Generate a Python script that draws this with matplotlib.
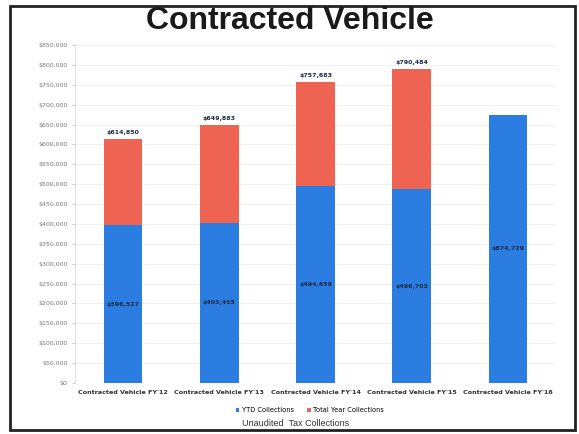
import matplotlib
matplotlib.use("Agg")
import matplotlib.pyplot as plt
from matplotlib.patches import Rectangle
from matplotlib.ticker import FuncFormatter

categories = ["Contracted Vehicle FY'12", "Contracted Vehicle FY'13", "Contracted Vehicle FY'14",
              "Contracted Vehicle FY'15", "Contracted Vehicle FY'16"]
ytd = [396527, 403455, 494659, 486703, 674729]
totals = [614850, 649883, 757683, 790484, None]
remainder = [t - y if t is not None else 0 for t, y in zip(totals, ytd)]

blue = "#2B7DE1"
red = "#EE6352"

fig = plt.figure(figsize=(5.79, 4.34), dpi=100)
ax = fig.add_axes([75 / 579, 51 / 434, 481 / 579, 338 / 434])

x = range(len(categories))
ax.bar(x, ytd, width=0.4, color=blue, label="YTD Collections", zorder=3)
ax.bar(x, remainder, width=0.4, bottom=ytd, color=red, label="Total Year Collections", zorder=3)

for i in x:
    ax.text(i, ytd[i] / 2, "${:,}".format(ytd[i]), ha="center", va="center",
            fontsize=4.5, color="#1a2a44", fontweight="bold", zorder=4)
    if totals[i] is not None:
        ax.text(i, totals[i] + 9000, "${:,}".format(totals[i]), ha="center", va="bottom",
                fontsize=4.5, color="#1a2a44", fontweight="bold", zorder=4)

ax.set_xlim(-0.5, 4.5)
ax.set_ylim(0, 850000)
ax.set_yticks(range(0, 850001, 50000))
ax.yaxis.set_major_formatter(FuncFormatter(lambda v, p: "${:,.0f}".format(v)))
ax.grid(axis="y", color="#eeeeee", linewidth=0.6, zorder=0)
ax.set_xticks(list(x))
ax.set_xticklabels(categories, fontsize=4.6, fontweight="bold", color="#333333")
ax.tick_params(axis="y", labelsize=4.5, labelcolor="#777777", length=2, color="#cccccc")
ax.tick_params(axis="x", length=0, pad=5)
for s in ["top", "right", "bottom"]:
    ax.spines[s].set_visible(False)
ax.spines["left"].set_color("#dddddd")
ax.spines["left"].set_linewidth(0.6)

fig.legend(loc="center", bbox_to_anchor=(310 / 579, 1 - 410 / 434), ncol=2, frameon=False,
           fontsize=4.8, handlelength=0.5, handleheight=0.5, columnspacing=2, handletextpad=0.4)

fig.text(290 / 579, 1 - 21 / 434, "Contracted Vehicle", ha="center", va="center",
         fontsize=23, fontweight="bold", family="Liberation Sans", color="#1a1a1a")
fig.text(296 / 579, 1 - 423 / 434, "Unaudited  Tax Collections", ha="center", va="center",
         fontsize=6.5, family="Liberation Sans", color="#333333")

fig.patches.append(Rectangle((10 / 579, 4 / 434), 565 / 579, 424 / 434, transform=fig.transFigure,
                             fill=False, edgecolor="#222222", linewidth=2))

fig.savefig("out.png", dpi=100)
